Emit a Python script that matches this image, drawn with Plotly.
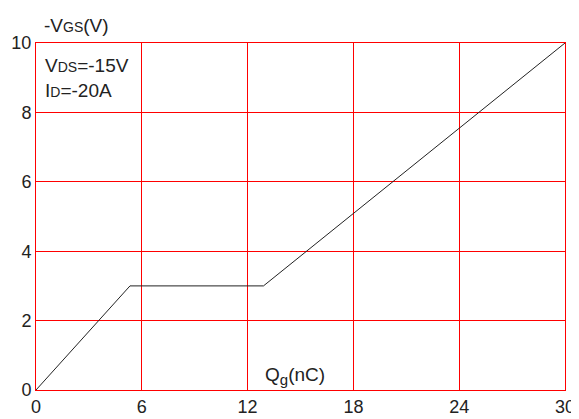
import plotly.graph_objects as go

qg = [0, 5.33, 12.9, 30]
vgs = [0, 3.0, 3.0, 10]
x_ticks = [0, 6, 12, 18, 24, 30]
y_ticks = [0, 2, 4, 6, 8, 10]

FONT = "Liberation Sans, Arial, sans-serif"
TXT = "#222222"
RED = "#ff0000"

fig = go.Figure()
fig.add_trace(go.Scatter(x=qg, y=vgs, mode="lines",
                         line=dict(color="#222222", width=1), showlegend=False))

axis_common = dict(showgrid=True, gridcolor=RED, gridwidth=1, automargin=False,
                   showline=True, linecolor=RED, linewidth=1, mirror=True,
                   zeroline=False, ticks="", tickfont=dict(family=FONT, size=18, color=TXT))

fig.update_xaxes(range=[0, 30], tickvals=x_ticks, ticktext=[str(t) for t in x_ticks],
                 **axis_common)
fig.update_yaxes(range=[0, 10], tickvals=y_ticks, ticktext=[str(t) for t in y_ticks],
                 **axis_common)

ann_font = dict(family=FONT, size=19, color=TXT)
small = "<span style='font-size:14px'>%s</span>"
fig.add_annotation(xref="paper", yref="paper", x=0.012, y=1.05, xanchor="left", yanchor="middle",
                   text="-V" + small % "GS" + "(V)", showarrow=False, font=ann_font)
fig.add_annotation(xref="paper", yref="paper", x=0.014, y=0.934, xanchor="left", yanchor="middle",
                   text="V" + small % "DS" + "=-15V", showarrow=False, font=ann_font)
fig.add_annotation(xref="paper", yref="paper", x=0.014, y=0.862, xanchor="left", yanchor="middle",
                   text="I" + small % "D" + "=-20A", showarrow=False, font=ann_font)
fig.add_annotation(xref="paper", yref="paper", x=0.49, y=0.0, xanchor="center", yanchor="bottom",
                   text="Q<sub><span style='font-size:15px'>g</span></sub>(nC)", showarrow=False,
                   font=ann_font)

# page body has an 8px margin, so the figure is sized to fit the 579x419 window
fig.update_layout(width=571, height=411, margin=dict(l=28, r=14, t=35, b=29),
                  paper_bgcolor="white", plot_bgcolor="white",
                  font=dict(family=FONT, color=TXT))

fig.write_html("out.html")
